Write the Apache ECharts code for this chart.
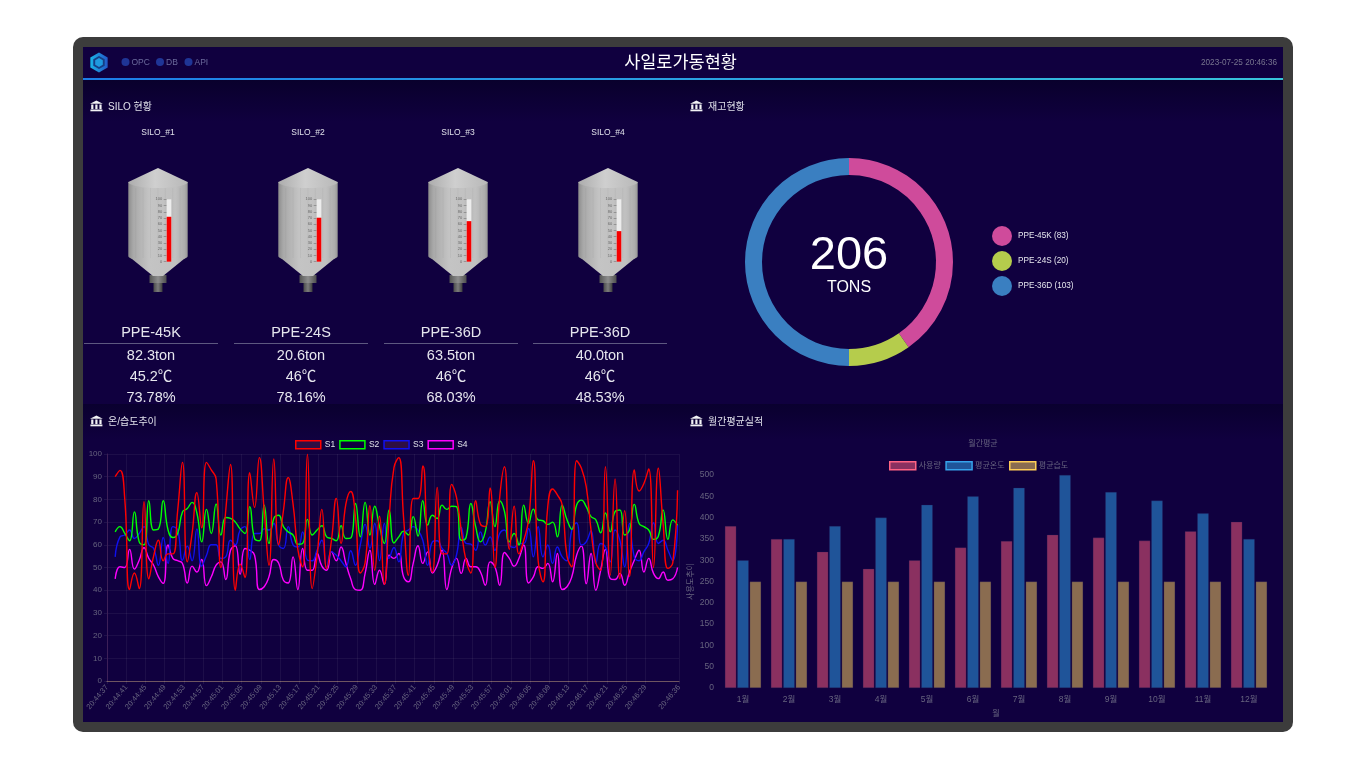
<!DOCTYPE html>
<html>
<head>
<meta charset="utf-8">
<title>사일로가동현황</title>
<style>
  html, body { margin: 0; padding: 0; background: #fff; }
  #main { width: 1366px; height: 768px; }
</style>
</head>
<body>
<div id="main"></div>
<script src="https://cdn.jsdelivr.net/npm/echarts@6/dist/echarts.min.js"></script>
<script>
// silo panel
var siloNames = ['SILO_#1', 'SILO_#2', 'SILO_#3', 'SILO_#4'];
var siloProducts = ['PPE-45K', 'PPE-24S', 'PPE-36D', 'PPE-36D'];
var siloTons = ['82.3ton', '20.6ton', '63.5ton', '40.0ton'];
var siloTemps = ['45.2℃', '46℃', '46℃', '46℃'];
var siloHumid = ['73.78%', '78.16%', '68.03%', '48.53%'];
var siloLevels = [72, 70.5, 65, 49];

// stock donut
var stockNames = ['PPE-45K', 'PPE-24S', 'PPE-36D'];
var stockValues = [83, 20, 103];

// temperature / humidity trend, one sample per second
var timeTicks = ['20:44:37', '20:44:41', '20:44:45', '20:44:49', '20:44:53', '20:44:57', '20:45:01', '20:45:05', '20:45:09', '20:45:13',
  '20:45:17', '20:45:21', '20:45:25', '20:45:29', '20:45:33', '20:45:37', '20:45:41', '20:45:45', '20:45:49', '20:45:53',
  '20:45:57', '20:46:01', '20:46:05', '20:46:09', '20:46:13', '20:46:17', '20:46:21', '20:46:25', '20:46:29', '20:46:36'];
var tickSeconds = [0, 4, 8, 12, 16, 20, 24, 28, 32, 36, 40, 44, 48, 52, 56, 60, 64, 68, 72, 76, 80, 84, 88, 92, 96, 100, 104, 108, 112, 119];
var firstSample = 1.7; // samples start a little after the first tick

var s1 = [90, 92.8, 80, 40.3, 47.6, 40.7, 79, 45, 55, 62, 53, 56, 56, 75, 96.3, 52.5, 65, 83, 67.5, 96.3,
  93, 89, 50, 75, 95.4, 40, 51.5, 45.6, 91.8, 76.5, 98.4, 75, 51, 97.8, 60, 75, 89.6, 78, 58, 50.3,
  99.9, 40.7, 55, 75.6, 49.6, 62, 80.4, 60.6, 78, 83.5, 72, 47.6, 52, 77.2, 48.8, 72.6, 42.6, 72, 94, 98.4,
  72, 46.6, 80.4, 80.4, 94.7, 62, 48, 85.3, 56, 56, 86.6, 81, 66.5, 53, 47.6, 79.4, 69, 68, 85, 50,
  81, 94.4, 58, 77, 56, 62, 71, 97, 53, 43.7, 76.8, 84.6, 82, 77.5, 55, 50.3, 97, 93.7, 85.6, 66.5,
  52, 48.8, 94.4, 46.6, 89, 45, 75, 46, 93, 83.7, 87, 93.4, 50, 93.7, 69, 49.6, 52, 84];
var s2 = [65.7, 68, 65, 61.8, 74.5, 61.3, 60, 79.4, 66.5, 67, 79.4, 66.5, 63.2, 65, 74.5, 76, 78.7, 74, 61.3, 75.6,
  65, 78, 64.3, 72, 71.6, 70, 67, 65, 76.8, 62.8, 61.8, 77.5, 60.6, 71.6, 73, 68, 65.7, 64.3, 60.3, 60.6,
  71.2, 64.3, 66.5, 68.4, 63.5, 62.8, 61.8, 68.4, 62.8, 63, 78.2, 63.5, 78.7, 64.3, 77, 68, 60.6, 75.3, 60.8, 63.5,
  66, 64.3, 72.4, 63.8, 79.4, 68.7, 73, 71.6, 77.5, 75.6, 77, 76.8, 62, 63.2, 78.2, 68, 61.3, 65.7, 79, 68,
  79.4, 74.6, 61.3, 65, 59.9, 77.5, 69.4, 75.7, 71, 70.6, 69, 70, 63.5, 77.5, 71, 66.8, 77.5, 79.7, 76.8, 72.4,
  71, 65.3, 74, 65.7, 74.6, 75.3, 64.3, 66.5, 77.8, 69.4, 68, 66.5, 62.4, 63.8, 75.3, 62.4, 71, 68.7];
var s3 = [54.7, 63.5, 64.3, 66.5, 62.8, 65, 68, 60, 58.4, 51, 63.2, 51.8, 68, 66.5, 53.2, 59.4, 53, 67, 50.6, 55.4,
  60, 60, 54, 54.7, 62, 60, 66.5, 68, 53.5, 65, 65, 67, 66.5, 69.4, 60, 58.4, 68, 60, 59, 65.7,
  53.2, 53, 57.6, 62, 50, 57, 55.4, 53, 50.3, 57.4, 51, 60, 69, 58.4, 69.4, 53, 69.4, 54, 58.8, 52.5,
  65, 66.5, 68, 66.5, 62, 51, 61.3, 61.8, 58.4, 56.2, 51, 55.4, 67.6, 60.6, 60.3, 57.6, 65.7, 59.9, 63.5, 57.6,
  65, 66.5, 59.9, 58.8, 60.6, 60.6, 67.2, 54.7, 68, 54.7, 59.9, 51.8, 59, 54.7, 53, 66.5, 69.7, 59.9, 61.3, 66.2,
  51.8, 60.6, 59, 52.5, 66.5, 62, 50.3, 69.4, 54.7, 53, 57, 60.6, 69.7, 60.6, 62, 57.6, 53, 68.7];
var s4 = [45, 50.3, 50, 58, 49.3, 53.2, 58.7, 54, 51, 45.9, 43, 59.9, 54, 53, 51.8, 43.2, 50.6, 48, 53.5, 42,
  45.9, 51, 52.5, 44.7, 57.6, 59.6, 47, 58.4, 57.6, 55.4, 40.3, 41.5, 45.9, 53.5, 52, 44.4, 43.2, 54.7, 40.3, 58.4,
  48.8, 48.8, 56.3, 50.6, 48.8, 57, 53, 59, 51.8, 45, 40.3, 40, 47.4, 57.6, 42.6, 48.8, 42.6, 55.4, 54, 56.2,
  45.9, 43.7, 51.8, 59.6, 51.8, 56.9, 47.6, 51, 57.6, 40.3, 49.6, 54, 47.4, 54, 50.3, 50.3, 48, 42.2, 52.5, 50.3,
  42.2, 56.6, 54, 50.6, 54, 59.9, 43.2, 45.9, 50.3, 49.6, 51.8, 43.7, 56.2, 40.3, 41.5, 45.9, 55.4, 59.4, 42.9, 56.2,
  40, 48.8, 58, 45.1, 44.7, 47.4, 42.2, 48, 53.2, 57.6, 48, 54, 47.4, 45.1, 48, 44.4, 45, 50];

// monthly averages
var months = ['1월', '2월', '3월', '4월', '5월', '6월', '7월', '8월', '9월', '10월', '11월', '12월'];
var usage = [380, 350, 320, 280, 300, 330, 345, 360, 353, 346, 368, 390];
var avgTemp = [300, 350, 380, 400, 430, 450, 470, 500, 460, 440, 410, 350];
var avgHumid = [250, 250, 250, 250, 250, 250, 250, 250, 250, 250, 250, 250];

var FONT = '"Liberation Sans","Noto Sans CJK KR",sans-serif';
var PANEL = '#10003f';
var DIM = '#67637f';

function text(x, y, str, size, color, align) {
  return {
    type: 'text', z: 5, silent: true, x: x, y: y + 2,
    style: { text: str, font: size + 'px ' + FONT, fill: color, align: align || 'left', verticalAlign: 'middle' }
  };
}

function vGrad(a, b) {
  return new echarts.graphic.LinearGradient(0, 0, 0, 1, [{ offset: 0, color: a }, { offset: 1, color: b }]);
}

function poly(points, fill, z) {
  return { type: 'polygon', z: z, silent: true, shape: { points: points }, style: { fill: fill } };
}

function rect(x, y, w, h, fill, z, r) {
  return { type: 'rect', z: z, silent: true, shape: { x: x, y: y, width: w, height: h, r: r || 0 }, style: { fill: fill } };
}

function hexagon(cx, cy, r) {
  var pts = [];
  for (var i = 0; i < 6; i++) {
    var a = Math.PI / 3 * i - Math.PI / 2;
    pts.push([cx + r * Math.cos(a), cy + r * Math.sin(a)]);
  }
  return pts;
}

// bottom edge of a round tank seen slightly from above
function arc(cx, y, rx, ry, dir) {
  var pts = [];
  for (var i = 0; i <= 16; i++) {
    var a = Math.PI * i / 16;
    pts.push([cx - dir * rx * Math.cos(a), y + ry * Math.sin(a)]);
  }
  return pts;
}

function metalGrad() {
  return new echarts.graphic.LinearGradient(0, 0, 1, 0, [
    { offset: 0, color: '#8c8c8c' }, { offset: 0.08, color: '#a8a8a8' }, { offset: 0.35, color: '#c4c4c4' },
    { offset: 0.8, color: '#c0c0c0' }, { offset: 0.95, color: '#acacac' }, { offset: 1, color: '#959595' }
  ]);
}

function siloShape(cx) {
  var out = [];
  var rx = 29.7, top = 168, shoulder = 182, bottom = 256, tip = 276;
  // nozzle and flange
  out.push(rect(cx - 4.5, 281, 9, 11, new echarts.graphic.LinearGradient(0, 0, 1, 0, [
    { offset: 0, color: '#4a4a4a' }, { offset: 0.5, color: '#7c7c7c' }, { offset: 1, color: '#3c3c3c' }
  ]), -2));
  out.push(rect(cx - 8.5, 275, 17, 8, new echarts.graphic.LinearGradient(0, 0, 1, 0, [
    { offset: 0, color: '#555' }, { offset: 0.5, color: '#8e8e8e' }, { offset: 1, color: '#4e4e4e' }
  ]), -2));
  // hopper
  out.push(poly([[cx - rx, bottom], [cx - 5, tip], [cx + 5, tip], [cx + rx, bottom]], metalGrad(), -2));
  // body
  var body = [[cx - rx, shoulder]].concat([[cx + rx, shoulder]], arc(cx, bottom, rx, 6, -1));
  out.push(poly(body, metalGrad(), -1));
  // faint panel seams
  for (var i = 1; i < 8; i++) {
    out.push({
      type: 'line', z: -1, silent: true,
      shape: { x1: cx - rx + i * 7.4, y1: shoulder + 6, x2: cx - rx + i * 7.4, y2: bottom + 2 },
      style: { stroke: 'rgba(90,90,90,0.06)', lineWidth: 1 }
    });
  }
  // roof
  var roof = [[cx, top]].concat(arc(cx, shoulder, rx, 6, -1).reverse());
  out.push(poly(roof, new echarts.graphic.LinearGradient(0, 0, 1, 0, [
    { offset: 0, color: '#acacac' }, { offset: 0.45, color: '#cfcfcf' }, { offset: 1, color: '#b8b8b8' }
  ]), 0));
  return out;
}

function bankIcon(x, y) {
  var c = '#f2f2f5';
  return [
    poly([[x, y + 3.2], [x + 6.4, y], [x + 12.8, y + 3.2]], c, 5),
    rect(x + 1.2, y + 4, 2.2, 4.6, c, 5),
    rect(x + 5.3, y + 4, 2.2, 4.6, c, 5),
    rect(x + 9.4, y + 4, 2.2, 4.6, c, 5),
    rect(x + 0.4, y + 9, 12, 1.8, c, 5)
  ];
}

var graphics = [
  rect(73, 37, 1220, 695, '#3c3c3c', -10, 10),
  rect(83, 47, 1200, 675, PANEL, -9),
  rect(83, 80, 1200, 42, vGrad('#09002c', PANEL), -8),
  rect(83, 404, 1200, 36, vGrad('#0a002f', PANEL), -8),
  {
    type: 'rect', z: 5, silent: true, shape: { x: 83, y: 78, width: 1200, height: 2 },
    style: {
      fill: new echarts.graphic.LinearGradient(0, 0, 1, 0, [
        { offset: 0, color: '#1c7de8' }, { offset: 1, color: '#38c4da' }
      ])
    }
  },
  // logo
  poly(hexagon(99, 62.5, 10), new echarts.graphic.LinearGradient(0, 0, 1, 0, [
    { offset: 0, color: '#19b4e8' }, { offset: 1, color: '#2358c8' }
  ]), 5),
  poly(hexagon(99, 62.5, 6.6), '#163e86', 5),
  poly(hexagon(99, 62.5, 4.4), '#1f9ae0', 5),
  text(680.5, 61, '사일로가동현황', 17.5, '#ffffff', 'center'),
  text(1277, 61, '2023-07-25 20:46:36', 8.2, '#77748f', 'right'),
  text(108, 105.5, 'SILO 현황', 10, '#e0e0ea'),
  text(708, 105.5, '재고현황', 10, '#e0e0ea'),
  text(108, 420.5, '온/습도추이', 10, '#e0e0ea'),
  text(708, 420.5, '월간평균실적', 10, '#e0e0ea'),
  text(849, 254.5, '206', 47, '#ffffff', 'center'),
  text(849, 286, 'TONS', 16, '#ffffff', 'center')
];

// status lamps
[['OPC', 125.5], ['DB', 160], ['API', 188.5]].forEach(function (d) {
  graphics.push({ type: 'circle', z: 5, silent: true, shape: { cx: d[1], cy: 62, r: 4 }, style: { fill: '#1f3596' } });
  graphics.push(text(d[1] + 6, 61, d[0], 8.5, '#6b6a9c'));
});

graphics = graphics.concat(bankIcon(90, 100.5), bankIcon(690, 100.5), bankIcon(90, 415.5), bankIcon(690, 415.5));

var siloX = [158, 308, 458, 608];
var infoX = [151, 301, 451, 600];
siloX.forEach(function (cx, i) {
  graphics = graphics.concat(siloShape(cx));
  graphics.push(text(cx, 131, siloNames[i], 8.5, '#e0e0ea', 'center'));
  graphics.push(text(infoX[i], 331, siloProducts[i], 14.5, '#e6e6ee', 'center'));
  graphics.push({
    type: 'line', z: 5, silent: true,
    shape: { x1: infoX[i] - 67, y1: 343.5, x2: infoX[i] + 67, y2: 343.5 },
    style: { stroke: '#5d5880', lineWidth: 1 }
  });
  graphics.push(text(infoX[i], 354, siloTons[i], 14.5, '#e6e6ee', 'center'));
  graphics.push(text(infoX[i], 375, siloTemps[i], 14.5, '#e6e6ee', 'center'));
  graphics.push(text(infoX[i], 396, siloHumid[i], 14.5, '#e6e6ee', 'center'));
});

function legendItem(name, stroke, fill) {
  return { name: name, icon: 'rect', itemStyle: { color: fill, borderColor: stroke, borderWidth: 1.5 } };
}

var grids = [
  { left: 107, top: 454, width: 572, height: 227 },
  { left: 720, top: 475, width: 552, height: 213 }
];
var xAxes = [
  {
    gridIndex: 0, type: 'value', min: 0, max: 119,
    axisLine: { onZero: false, lineStyle: { color: '#6e5560', width: 1 } },
    axisTick: { customValues: tickSeconds, length: 3, lineStyle: { color: 'rgba(255,255,255,0.07)' } },
    splitLine: { show: true, lineStyle: { color: 'rgba(255,255,255,0.055)', width: 1 } },
    axisLabel: {
      customValues: tickSeconds, rotate: 50, fontSize: 7.5, color: DIM, fontFamily: FONT, margin: 5,
      formatter: function (v) { return timeTicks[tickSeconds.indexOf(v)]; }
    }
  },
  {
    gridIndex: 1, type: 'category', data: months,
    name: '월', nameLocation: 'middle', nameGap: 22,
    nameTextStyle: { color: DIM, fontSize: 8, fontFamily: FONT },
    axisLine: { show: false }, axisTick: { show: false },
    axisLabel: { fontSize: 8.5, color: DIM, fontFamily: FONT, margin: 7 }
  }
];
var yAxes = [
  {
    gridIndex: 0, type: 'value', min: 0, max: 100, interval: 10,
    axisLine: { show: true, lineStyle: { color: '#3d2058' } },
    axisTick: { show: true, length: 3, lineStyle: { color: 'rgba(255,255,255,0.07)' } },
    splitLine: { lineStyle: { color: 'rgba(255,255,255,0.055)', width: 1 } },
    axisLabel: { fontSize: 8, color: DIM, fontFamily: FONT, margin: 5 }
  },
  {
    gridIndex: 1, type: 'value', min: 0, max: 500, interval: 50,
    name: '사용도추이', nameLocation: 'middle', nameGap: 25, nameRotate: 90,
    nameTextStyle: { color: DIM, fontSize: 8, fontFamily: FONT },
    axisLine: { show: false }, axisTick: { show: false }, splitLine: { show: false },
    axisLabel: { fontSize: 8.5, color: DIM, fontFamily: FONT, margin: 6 }
  }
];

function trend(name, values, color, z) {
  return {
    name: name, type: 'line', xAxisIndex: 0, yAxisIndex: 0, z: z,
    data: values.map(function (v, i) { return [firstSample + i, v]; }),
    smooth: 0.5, showSymbol: false, silent: true,
    lineStyle: { color: color, width: 1.4 }, itemStyle: { color: color }
  };
}

function monthly(name, values, fill) {
  return {
    name: name, type: 'bar', xAxisIndex: 1, yAxisIndex: 1, data: values,
    barWidth: 11.5, barGap: '8%', silent: true,
    itemStyle: { color: fill, borderColor: 'rgba(40,30,90,0.5)', borderWidth: 0.5 }
  };
}

var series = [
  trend('S1', s1, '#ff0000', 8),
  trend('S2', s2, '#00ff00', 7),
  trend('S3', s3, '#1010f0', 6),
  trend('S4', s4, '#ff00ff', 5),
  monthly('사용량', usage, '#8a3060'),
  monthly('평균온도', avgTemp, '#1f5499'),
  monthly('평균습도', avgHumid, '#8a6c50'),
  {
    name: '재고', type: 'pie', center: [849, 262], radius: [87, 104], startAngle: 90, silent: true,
    label: { show: false }, labelLine: { show: false },
    data: stockNames.map(function (n, i) {
      return { name: n, value: stockValues[i], itemStyle: { color: ['#cf4b9b', '#b5cc4c', '#3a7fc1'][i] } };
    })
  }
];

// level gauge inside each silo
siloLevels.forEach(function (level, i) {
  var g = grids.length;
  grids.push({ left: siloX[i] + 8.7, top: 199.3, width: 4.6, height: 62.4 });
  xAxes.push({ gridIndex: g, type: 'category', data: [siloNames[i]], show: false });
  yAxes.push({
    gridIndex: g, type: 'value', min: 0, max: 100, interval: 10,
    axisLine: { show: false },
    axisTick: { show: true, length: 3, lineStyle: { color: '#666', width: 0.5 } },
    splitLine: { show: false },
    axisLabel: { fontSize: 4, color: '#666', fontFamily: FONT, margin: 4.5, showMinLabel: true, showMaxLabel: true, hideOverlap: false }
  });
  series.push({
    type: 'bar', xAxisIndex: g, yAxisIndex: g, data: [level], barWidth: '100%', silent: true,
    showBackground: true, backgroundStyle: { color: '#ececec' },
    itemStyle: { color: '#f50000' }, z: 4
  });
});

var chart = echarts.init(document.getElementById('main'), null, { renderer: 'canvas' });
chart.setOption({
  animation: false,
  backgroundColor: '#ffffff',
  textStyle: { fontFamily: FONT },
  title: {
    text: '월간평균', left: 983, top: 440, padding: 0, textAlign: 'center',
    textStyle: { color: DIM, fontSize: 8, fontWeight: 'normal', fontFamily: FONT }
  },
  legend: [
    {
      left: 295, top: 440, padding: 0, itemWidth: 25, itemHeight: 8, itemGap: 4, selectedMode: false,
      textStyle: { color: '#e0e0e8', fontSize: 8.5, fontFamily: FONT, padding: [0, 0, 0, -1] },
      data: [
        legendItem('S1', '#ff0000', 'rgba(60,20,70,0.7)'),
        legendItem('S2', '#00ff00', 'rgba(16,0,63,0.7)'),
        legendItem('S3', '#1010f0', 'rgba(60,20,70,0.7)'),
        legendItem('S4', '#ff00ff', 'rgba(16,0,63,0.7)')
      ]
    },
    {
      left: 889, top: 461, padding: 0, itemWidth: 26, itemHeight: 8, itemGap: 4.5, selectedMode: false,
      textStyle: { color: DIM, fontSize: 8, fontFamily: FONT, padding: [0, 0, 0, -2] },
      data: [
        legendItem('사용량', '#ff6384', '#8a3060'),
        legendItem('평균온도', '#36a2eb', '#1f5499'),
        legendItem('평균습도', '#ffce56', '#8a6c50')
      ]
    },
    {
      left: 992, top: 226, padding: 0, orient: 'vertical', itemWidth: 20, itemHeight: 20, itemGap: 5, selectedMode: false, icon: 'circle',
      textStyle: { color: '#e6e6ee', fontSize: 8.2, fontFamily: FONT, padding: [0, 0, 0, 1] },
      data: stockNames,
      formatter: function (n) { return n + ' (' + stockValues[stockNames.indexOf(n)] + ')'; }
    }
  ],
  grid: grids,
  xAxis: xAxes,
  yAxis: yAxes,
  series: series,
  graphic: { elements: graphics }
});
</script>
</body>
</html>
